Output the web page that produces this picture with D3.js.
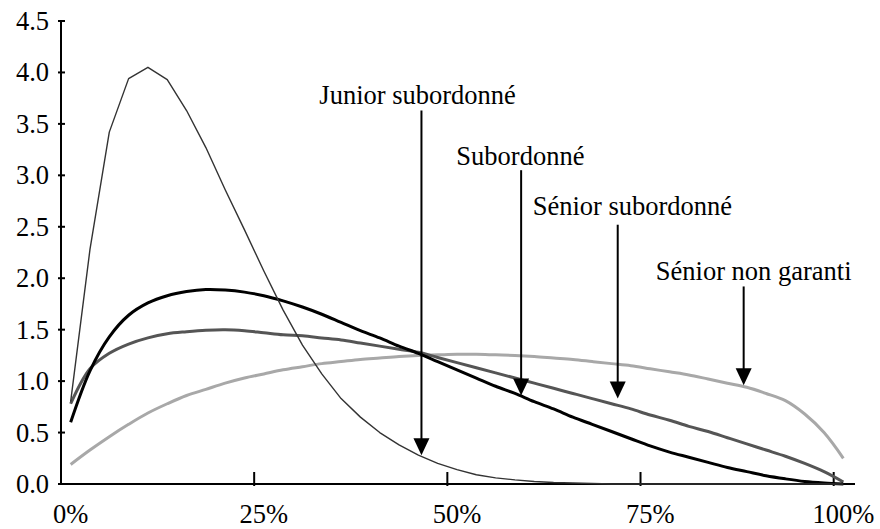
<!DOCTYPE html>
<html>
<head>
<meta charset="utf-8">
<script src="https://cdn.jsdelivr.net/npm/d3@7"></script>
<style>
  body { margin: 0; background: #fff; }
  text { font-family: "Liberation Serif", "Times New Roman", serif; fill: #000; }
</style>
</head>
<body>
<div id="chart"></div>
<script>
// recovery rate categories (in %)
var recovery = [0, 2.5, 5, 7.5, 10, 12.5, 15, 17.5, 20, 22.5, 25, 27.5, 30, 32.5, 35, 37.5, 40,
  42.5, 45, 47.5, 50, 52.5, 55, 57.5, 60, 62.5, 65, 67.5, 70, 72.5, 75, 77.5, 80, 82.5, 85,
  87.5, 90, 92.5, 95, 97.5, 100];

// densities
var juniorSub = [0.80, 2.28, 3.42, 3.94, 4.05, 3.93, 3.63, 3.27, 2.86, 2.47, 2.07, 1.69, 1.35,
  1.07, 0.83, 0.65, 0.50, 0.38, 0.28, 0.20, 0.14, 0.09, 0.06, 0.04, 0.025, 0.015, 0.01, 0.005,
  0, 0, 0, 0, 0, 0, 0, 0, 0, 0, 0, 0, 0];
var subordonne = [0.60, 1.10, 1.43, 1.64, 1.76, 1.83, 1.87, 1.89, 1.885, 1.865, 1.83, 1.78,
  1.72, 1.65, 1.57, 1.49, 1.42, 1.34, 1.27, 1.19, 1.11, 1.03, 0.95, 0.88, 0.80, 0.73, 0.65,
  0.58, 0.51, 0.44, 0.37, 0.31, 0.26, 0.21, 0.16, 0.12, 0.08, 0.05, 0.025, 0.01, 0.0];
var seniorSub = [0.78, 1.12, 1.27, 1.36, 1.42, 1.46, 1.48, 1.495, 1.50, 1.49, 1.47, 1.45,
  1.44, 1.42, 1.40, 1.37, 1.34, 1.31, 1.28, 1.23, 1.18, 1.13, 1.08, 1.03, 0.98, 0.93, 0.88,
  0.83, 0.78, 0.73, 0.67, 0.62, 0.56, 0.51, 0.45, 0.39, 0.33, 0.27, 0.20, 0.12, 0.02];
var seniorNonGaranti = [0.19, 0.33, 0.46, 0.58, 0.69, 0.78, 0.86, 0.92, 0.98, 1.03, 1.07,
  1.11, 1.14, 1.17, 1.19, 1.21, 1.225, 1.24, 1.25, 1.255, 1.26, 1.26, 1.255, 1.25, 1.24,
  1.225, 1.21, 1.19, 1.17, 1.15, 1.12, 1.09, 1.06, 1.02, 0.98, 0.94, 0.88, 0.81, 0.68, 0.50, 0.25];

var yTicks = [0, 0.5, 1, 1.5, 2, 2.5, 3, 3.5, 4, 4.5];
var xTickLabels = ["0%", "25%", "50%", "75%", "100%"];
var xTickValues = [0, 25, 50, 75, 100];

// annotations: label centre, arrow position (%), text baseline, arrow top and tip (density units)
var annLabels = ["Junior subordonné", "Subordonné", "Sénior subordonné", "Sénior non garanti"];
var annTextAt = [44.9, 58.2, 72.7, 88.4];
var annArrowAt = [45.4, 58.3, 70.8, 87.1];
var annTextY = [3.69, 3.10, 2.61, 1.98];
var annTop = [3.63, 3.05, 2.52, 1.92];
var annTip = [0.28, 0.86, 0.83, 0.96];

var width = 880, height = 529;
var svg = d3.select("#chart").append("svg")
  .attr("width", width)
  .attr("height", height);

var band = d3.scaleBand()
  .domain(recovery)
  .range([61, 853])
  .padding(0);

var x = d3.scaleLinear()
  .domain([0, 100])
  .range([band(0) + band.bandwidth() / 2, band(100) + band.bandwidth() / 2]);

var y = d3.scaleLinear()
  .domain([0, 4.5])
  .range([484, 21]);

var fontSize = 26.5;

// y axis
var yAxis = svg.append("g");
yAxis.append("line")
  .attr("x1", 61).attr("x2", 61)
  .attr("y1", y(4.5)).attr("y2", y(0))
  .attr("stroke", "#000").attr("stroke-width", 2);
yAxis.selectAll(".ytick")
  .data(yTicks)
  .enter().append("line")
  .attr("x1", 58).attr("x2", 65)
  .attr("y1", function(d) { return y(d); })
  .attr("y2", function(d) { return y(d); })
  .attr("stroke", "#000").attr("stroke-width", 2);
yAxis.selectAll(".ylab")
  .data(yTicks)
  .enter().append("text")
  .attr("x", 49)
  .attr("y", function(d) { return y(d); })
  .attr("dy", "0.34em")
  .attr("text-anchor", "end")
  .style("font-size", fontSize + "px")
  .text(function(d) { return d3.format(".1f")(d); });

// x axis
var xAxis = svg.append("g");
xAxis.append("line")
  .attr("x1", 60).attr("x2", 855)
  .attr("y1", y(0)).attr("y2", y(0))
  .attr("stroke", "#000").attr("stroke-width", 2);
xAxis.selectAll(".xtick")
  .data(xTickValues.slice(1))
  .enter().append("line")
  .attr("x1", function(d) { return band(d); })
  .attr("x2", function(d) { return band(d); })
  .attr("y1", y(0) - 12).attr("y2", y(0) + 2)
  .attr("stroke", "#000").attr("stroke-width", 2);
xAxis.selectAll(".xlab")
  .data(xTickValues)
  .enter().append("text")
  .attr("x", function(d) { return x(d); })
  .attr("y", 523)
  .attr("text-anchor", "middle")
  .style("font-size", fontSize + "px")
  .text(function(d, i) { return xTickLabels[i]; });

// curves
var series = [
  { values: seniorNonGaranti, color: "#a8a8a8", width: 3, curve: d3.curveCatmullRom },
  { values: seniorSub, color: "#555", width: 3, curve: d3.curveCatmullRom },
  { values: subordonne, color: "#000", width: 3, curve: d3.curveCatmullRom },
  { values: juniorSub, color: "#333", width: 1.4, curve: d3.curveLinear }
];

series.forEach(function(s) {
  var line = d3.line()
    .x(function(d, i) { return x(recovery[i]); })
    .y(function(d) { return y(d); })
    .curve(s.curve);
  svg.append("path")
    .datum(s.values)
    .attr("fill", "none")
    .attr("stroke", s.color)
    .attr("stroke-width", s.width)
    .attr("stroke-linejoin", "round")
    .attr("d", line);
});

// annotations with arrows
var ann = svg.append("g");
annLabels.forEach(function(label, i) {
  var ax = x(annArrowAt[i]);
  var tipY = y(annTip[i]);
  ann.append("text")
    .attr("x", x(annTextAt[i]))
    .attr("y", y(annTextY[i]))
    .attr("text-anchor", "middle")
    .style("font-size", fontSize + "px")
    .text(label);
  ann.append("line")
    .attr("x1", ax).attr("x2", ax)
    .attr("y1", y(annTop[i])).attr("y2", tipY - 10)
    .attr("stroke", "#000").attr("stroke-width", 2);
  ann.append("path")
    .attr("d", "M" + (ax - 8) + "," + (tipY - 17) + "L" + (ax + 8) + "," + (tipY - 17) + "L" + ax + "," + tipY + "Z")
    .attr("fill", "#000");
});
</script>
</body>
</html>
